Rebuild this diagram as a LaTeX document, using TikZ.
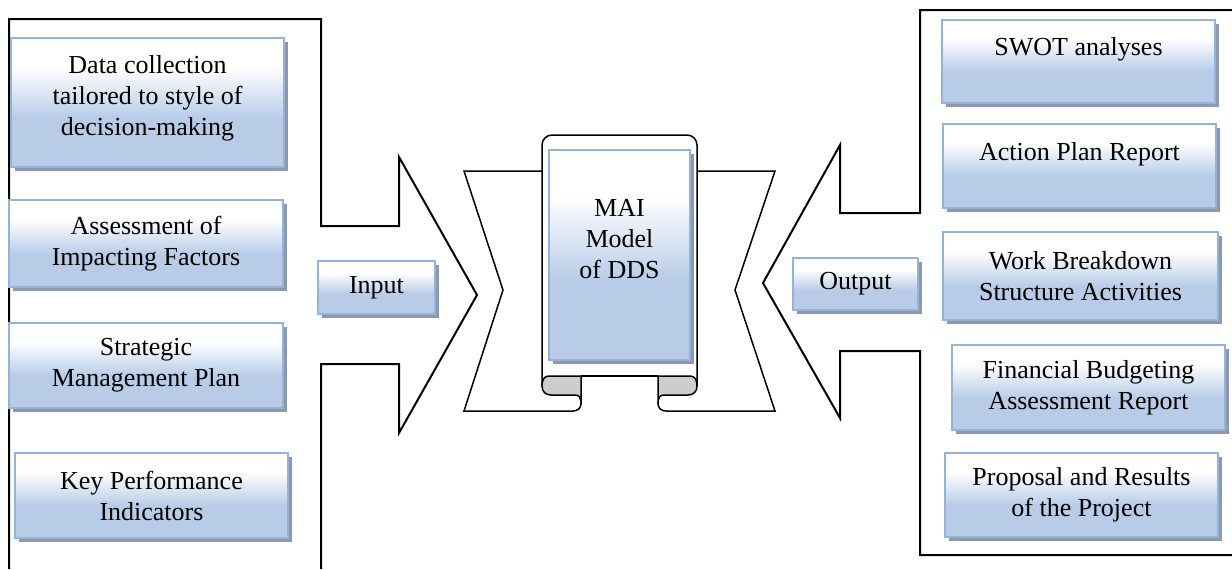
\documentclass[tikz,border=0pt]{standalone}
\usepackage{fontspec}
\setmainfont{Liberation Serif}
\usetikzlibrary{shadows}

\definecolor{boxblue}{RGB}{184,204,232}
\definecolor{boxline}{RGB}{149,179,215}
\definecolor{boxshadow}{RGB}{140,152,175}
\definecolor{curlgray}{RGB}{205,205,205}

\pgfdeclareverticalshading{boxshade}{100bp}{color(0bp)=(boxblue); color(44bp)=(boxblue); color(64bp)=(white); color(100bp)=(white)}

\begin{document}
\begin{tikzpicture}[x=0.5pt,y=-0.5pt,
    infobox/.style={draw=boxline, line width=1pt, shade, shading=boxshade, align=center,
      inner sep=0pt, font=\fontsize{13}{15.5}\selectfont,
      drop shadow={shadow xshift=2pt, shadow yshift=-2pt, fill=boxshadow, opacity=1}},
    frame/.style={line width=1pt, line join=miter},
    ribbon/.style={line width=0.75pt, line join=miter},
    curl/.style={line width=0.75pt, fill=curlgray}]
  \useasboundingbox (0,0) rectangle (1232,569);

  % Coordinates
  \coordinate (a1) at (9,569);
  \coordinate (a2) at (9,19);
  \coordinate (a3) at (321,19);
  \coordinate (a4) at (321,226);
  \coordinate (a5) at (399,226);
  \coordinate (a6) at (399,157);
  \coordinate (a7) at (477,295);
  \coordinate (a8) at (399,433);
  \coordinate (a9) at (399,364);
  \coordinate (a10) at (321,364);
  \coordinate (a11) at (321,569);

  \coordinate (b1) at (1232,10);
  \coordinate (b2) at (920,10);
  \coordinate (b3) at (920,213);
  \coordinate (b4) at (840,213);
  \coordinate (b5) at (840,145);
  \coordinate (b6) at (763,283);
  \coordinate (b7) at (840,418);
  \coordinate (b8) at (840,351);
  \coordinate (b9) at (920,351);
  \coordinate (b10) at (920,555);
  \coordinate (b11) at (1232,555);

  % Input and output frames
  \draw[frame] (a1) -- (a2) -- (a3) -- (a4) -- (a5) -- (a6) -- (a7) -- (a8) -- (a9) -- (a10) -- (a11);
  \draw[frame] (b1) -- (b2) -- (b3) -- (b4) -- (b5) -- (b6) -- (b7) -- (b8) -- (b9) -- (b10) -- (b11);

  % Ribbon behind the scroll
  \draw[ribbon] (542,171) -- (464,171) -- (503,290) -- (464,411) -- (573,411);
  \draw[ribbon] (697,171) -- (775,171) -- (735,290) -- (775,411) -- (666,411);

  % Scroll
  \draw[ribbon, fill=white, rounded corners=5pt] (542,386) -- (542,135) -- (697,135) -- (697,386);
  \draw[ribbon] (581,376) -- (658,376);
  \filldraw[curl] (581,376) -- (549,376) .. controls (544,376) and (542,380) .. (542,386)
    .. controls (542,392) and (546,395) .. (551,395) -- (575,395)
    .. controls (579,395) and (581,398) .. (581,401) -- cycle;
  \draw[ribbon] (581,401) -- (581,403) .. controls (581,408) and (578,411) .. (573,411);
  \filldraw[curl] (658,376) -- (690,376) .. controls (695,376) and (697,380) .. (697,386)
    .. controls (697,392) and (693,395) .. (688,395) -- (664,395)
    .. controls (660,395) and (658,398) .. (658,401) -- cycle;
  \draw[ribbon] (658,401) -- (658,403) .. controls (658,408) and (661,411) .. (666,411);

  % Input boxes
  \node[infobox, minimum width=136.5pt, minimum height=64.5pt, text depth=7pt] (d1) at (147.5,102.5)
    {Data collection\\tailored to style of\\decision-making};
  \node[infobox, minimum width=137pt, minimum height=43.5pt] (d2) at (146,243.5)
    {Assessment of\\Impacting Factors};
  \node[infobox, minimum width=137pt, minimum height=42.5pt] (d3) at (146,365.5)
    {Strategic\\Management Plan};
  \node[infobox, minimum width=136.5pt, minimum height=42.5pt] (d4) at (151.5,495.5)
    {Key Performance\\Indicators};
  \node[infobox, minimum width=58.5pt, minimum height=26.5pt] (inp) at (376.5,287.5) {Input};

  % Model
  \node[infobox, minimum width=70.5pt, minimum height=105pt, text depth=16pt] (mai) at (619.5,255)
    {MAI\\Model\\of DDS};

  % Output boxes
  \node[infobox, minimum width=62.5pt, minimum height=26pt] (out) at (855.5,284) {Output};
  \node[infobox, minimum width=136.5pt, minimum height=41.5pt, text depth=15pt] (r1) at (1078.5,61.5)
    {SWOT analyses};
  \node[infobox, minimum width=136.5pt, minimum height=42pt, text depth=15pt] (r2) at (1079.5,166)
    {Action Plan Report};
  \node[infobox, minimum width=137.5pt, minimum height=44pt] (r3) at (1080.5,276)
    {Work Breakdown\\Structure Activities};
  \node[infobox, minimum width=136.5pt, minimum height=42.5pt] (r4) at (1088.5,387.5)
    {Financial Budgeting\\Assessment Report};
  \node[infobox, minimum width=136.5pt, minimum height=42pt] (r5) at (1081.5,495)
    {Proposal and Results\\of the Project};
\end{tikzpicture}
\end{document}
